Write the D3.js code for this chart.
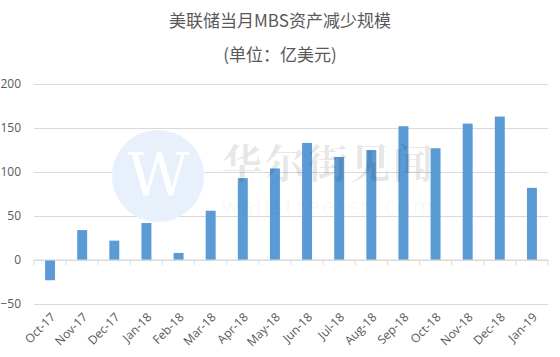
<!DOCTYPE html>
<html>
<head>
<meta charset="utf-8">
<script src="https://cdn.jsdelivr.net/npm/d3@7"></script>
<style>
  body { margin: 0; background: #fff; }
  svg { display: block; }
  .tick text { fill: #595959; font-family: "Open Sans", "Noto Sans", sans-serif; }
</style>
</head>
<body>
<svg></svg>
<script>
const months = ['Oct-17', 'Nov-17', 'Dec-17', 'Jan-18', 'Feb-18', 'Mar-18', 'Apr-18', 'May-18',
	'Jun-18', 'Jul-18', 'Aug-18', 'Sep-18', 'Oct-18', 'Nov-18', 'Dec-18', 'Jan-19'];
const reduction = [-23, 34, 22, 42, 8, 56, 93, 104, 133, 117, 125, 152, 127, 155, 163, 82];
const yTicks = [-50, 0, 50, 100, 150, 200];
const titleLines = ['美联储当月MBS资产减少规模', '(单位：亿美元)'];

const svg = d3.select('svg')
	.attr('width', 560)
	.attr('height', 357);

const width = +svg.attr('width'),
	margin = { left: 34, right: 12 };

const xScale = d3.scaleBand()
	.domain(months)
	.range([margin.left, width - margin.right])
	.paddingInner(0.69)
	.paddingOuter(0.345);

const yScale = d3.scaleLinear()
	.domain([-50, 200])
	.range([304, 84]);

// title
svg.selectAll('text.title')
	.data(titleLines)
	.enter().append('text')
	.attr('class', 'title')
	.attr('x', 280)
	.attr('y', (d, i) => 27 + i * 34)
	.attr('text-anchor', 'middle')
	.attr('fill', '#595959')
	.style('font-family', '"Noto Sans CJK SC", sans-serif')
	.style('font-size', '17px')
	.text(d => d);

// gridlines
const yAxis = d3.axisLeft(yScale)
	.tickValues(yTicks)
	.tickSize(-(width - margin.left - margin.right))
	.tickPadding(13);
const yAxisG = svg.append('g')
	.attr('transform', `translate(${margin.left}, 0)`)
	.call(yAxis);
yAxisG.select('.domain').remove();
yAxisG.selectAll('line').attr('stroke', '#d9d9d9');
yAxisG.selectAll('text').style('font-size', '12px');

// watermark
const wm = svg.append('g').attr('class', 'watermark');
wm.append('circle')
	.attr('cx', 158)
	.attr('cy', 176)
	.attr('r', 46)
	.attr('fill', '#e8f1fb');
wm.append('text')
	.attr('x', 158)
	.attr('y', 196)
	.attr('text-anchor', 'middle')
	.attr('fill', '#fff')
	.style('font-family', '"DejaVu Serif", serif')
	.style('font-size', '60px')
	.text('W');

// bars
svg.append('g').selectAll('rect')
	.data(months)
	.enter().append('rect')
	.attr('x', d => xScale(d))
	.attr('width', xScale.bandwidth())
	.attr('y', (d, i) => yScale(Math.max(0, reduction[i])))
	.attr('height', (d, i) => Math.abs(yScale(reduction[i]) - yScale(0)))
	.attr('fill', '#5b9bd5');

wm.raise();
wm.append('text')
	.attr('x', 222)
	.attr('y', 178)
	.attr('fill', '#000')
	.attr('fill-opacity', 0.1)
	.style('font-family', '"Noto Serif CJK SC", "Noto Sans CJK SC", serif')
	.style('font-weight', 'bold')
	.style('font-size', '40px')
	.attr('textLength', 211)
	.text('华尔街见闻');
wm.append('text')
	.attr('x', 222)
	.attr('y', 214)
	.attr('fill', '#000')
	.attr('fill-opacity', 0.04)
	.style('font-family', '"Open Sans", sans-serif')
	.style('font-size', '22px')
	.attr('textLength', 211)
	.text('wallstreetcn.com');

// x axis at zero
const xAxis = d3.axisBottom(xScale)
	.tickSize(0)
	.tickFormat('');
const xAxisG = svg.append('g')
	.attr('transform', `translate(0, ${yScale(0)})`)
	.call(xAxis);
xAxisG.select('.domain')
	.attr('stroke', '#d9d9d9')
	.attr('d', `M${margin.left},0H${width - margin.right}`);

const step = xScale.step();
xAxisG.selectAll('line.sep')
	.data(d3.range(months.length + 1))
	.enter().append('line')
	.attr('class', 'sep')
	.attr('x1', i => margin.left + i * step)
	.attr('x2', i => margin.left + i * step)
	.attr('y1', 0)
	.attr('y2', 5)
	.attr('stroke', '#d9d9d9');

// rotated month labels
svg.append('g').selectAll('text')
	.data(months)
	.enter().append('text')
	.attr('transform', d => `translate(${xScale(d) + xScale.bandwidth() / 2 + 6}, 318) rotate(-45)`)
	.attr('text-anchor', 'end')
	.attr('fill', '#595959')
	.style('font-family', '"Open Sans", "Noto Sans", sans-serif')
	.style('font-size', '12px')
	.text(d => d);
</script>
</body>
</html>
